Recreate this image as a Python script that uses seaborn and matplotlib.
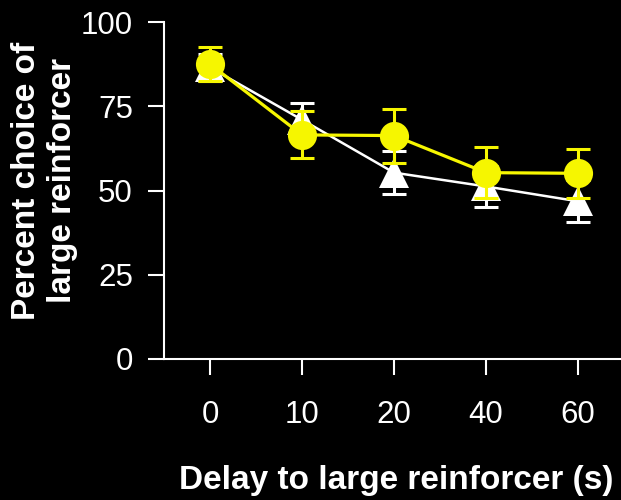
import matplotlib
matplotlib.use("Agg")
import matplotlib.pyplot as plt
import seaborn as sns
import pandas as pd

# Delay conditions (s) and group means with SEM
delays = ["0", "10", "20", "40", "60"]
yellow_mean = [87.5, 66.5, 66.3, 55.3, 55.1]
yellow_sem = [5.0, 7.0, 8.0, 7.5, 7.3]
white_mean = [86.5, 71.0, 55.3, 51.2, 46.8]
white_sem = [4.0, 5.0, 6.3, 6.0, 6.2]
yticks = [0, 25, 50, 75, 100]

sns.set_style("ticks")
plt.rcParams["font.family"] = ["Liberation Sans", "DejaVu Sans"]

fig = plt.figure(figsize=(6.21, 5.0), dpi=100, facecolor="black")
ax = fig.add_axes([164 / 621, (500 - 359) / 500, (624 - 164) / 621, 337 / 500])
ax.set_facecolor("black")

white_df = pd.DataFrame({"delay": delays, "pct": white_mean})
yellow_df = pd.DataFrame({"delay": delays, "pct": yellow_mean})

pos = list(range(len(delays)))
yellow = "#f6f600"

# white group (triangles)
ax.errorbar(pos, white_mean, yerr=white_sem, fmt="none", ecolor="white",
            elinewidth=2.2, capsize=8.5, capthick=2.2, zorder=2)
sns.pointplot(data=white_df, x="delay", y="pct", color="white", markers="^",
              linestyles="-", markersize=21, linewidth=1.8,
              markeredgewidth=0, ax=ax, zorder=3)

# yellow group (circles)
ax.errorbar(pos, yellow_mean, yerr=yellow_sem, fmt="none", ecolor=yellow,
            elinewidth=2.2, capsize=8.5, capthick=2.2, zorder=4)
sns.pointplot(data=yellow_df, x="delay", y="pct", color=yellow, markers="o",
              linestyles="-", markersize=21, linewidth=2.3,
              markeredgewidth=0, ax=ax, zorder=5)

for c in ax.collections + ax.lines:
    c.set_clip_on(False)

ax.set_xlim(-0.5, len(delays) - 0.5)
ax.set_ylim(0, 100)
ax.set_yticks(yticks)
ax.set_yticklabels([str(t) for t in yticks])

sns.despine(ax=ax)
for side in ("left", "bottom"):
    ax.spines[side].set_color("white")
    ax.spines[side].set_linewidth(1.5)

ax.tick_params(axis="both", colors="white", labelcolor="white", width=1.5,
               length=11.5, labelsize=22.5)
ax.tick_params(axis="y", pad=11)
ax.tick_params(axis="x", pad=18)

ax.set_xlabel("Delay to large reinforcer (s)", color="white", fontsize=24,
              fontweight="bold", labelpad=25)
ax.xaxis.label.set_x(0.505)
ax.set_ylabel("Percent choice of\nlarge reinforcer", color="white",
              fontsize=24, fontweight="bold", labelpad=2, linespacing=1.2)
ax.yaxis.label.set_y(0.53)

fig.savefig("out.png", dpi=100, facecolor="black")
